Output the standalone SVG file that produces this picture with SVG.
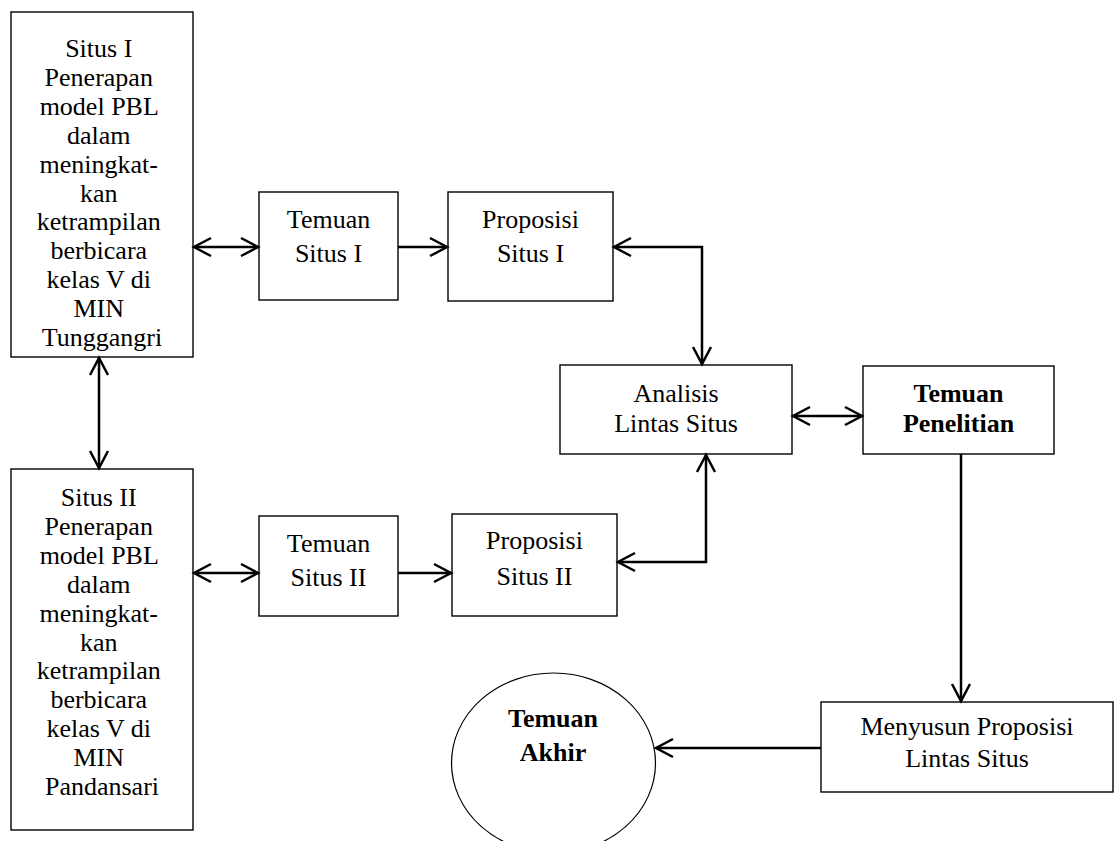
<svg xmlns="http://www.w3.org/2000/svg" width="1115" height="841" viewBox="0 0 1115 841">
<defs>
<style>
.box{fill:#fff;stroke:#000;stroke-width:1.4}
.t{font-family:"Liberation Serif","Times New Roman",serif;font-size:26px;fill:#000;text-anchor:middle}
.b{font-weight:bold}
.c{fill:none;stroke:#000;stroke-width:2.5}
</style>
<marker id="ah" viewBox="-20 -12 24 24" refX="0" refY="0" markerWidth="24" markerHeight="24" markerUnits="userSpaceOnUse" orient="auto-start-reverse">
<path d="M-17,-9 L0,0 L-17,9" fill="none" stroke="#000" stroke-width="2.5"/>
</marker>
</defs>
<rect width="1115" height="841" fill="#fff"/>
<g id="situs1">
<rect class="box" x="11" y="12" width="182" height="345"/>
<text class="t">
<tspan x="102" y="57">Situs I</tspan>
<tspan x="102" y="85.9">Penerapan</tspan>
<tspan x="102" y="114.8">model PBL</tspan>
<tspan x="102" y="143.7">dalam</tspan>
<tspan x="102" y="172.6">meningkat-</tspan>
<tspan x="102" y="201.5">kan</tspan>
<tspan x="102" y="230.4">ketrampilan</tspan>
<tspan x="102" y="259.3">berbicara</tspan>
<tspan x="102" y="288.2">kelas V di</tspan>
<tspan x="102" y="317.1">MIN</tspan>
<tspan x="102" y="346">Tunggangri</tspan>
</text>
</g>
<g id="situs2">
<rect class="box" x="11" y="469" width="182" height="361"/>
<text class="t">
<tspan x="102" y="506">Situs II</tspan>
<tspan x="102" y="534.9">Penerapan</tspan>
<tspan x="102" y="563.8">model PBL</tspan>
<tspan x="102" y="592.7">dalam</tspan>
<tspan x="102" y="621.6">meningkat-</tspan>
<tspan x="102" y="650.5">kan</tspan>
<tspan x="102" y="679.4">ketrampilan</tspan>
<tspan x="102" y="708.3">berbicara</tspan>
<tspan x="102" y="737.2">kelas V di</tspan>
<tspan x="102" y="766.1">MIN</tspan>
<tspan x="102" y="795">Pandansari</tspan>
</text>
</g>
<g id="temuan1">
<rect class="box" x="259" y="192" width="139" height="108"/>
<text class="t"><tspan x="328.5" y="228">Temuan</tspan><tspan x="328.5" y="262">Situs I</tspan></text>
</g>
<g id="proposisi1">
<rect class="box" x="448" y="192" width="165" height="109"/>
<text class="t"><tspan x="530.5" y="228">Proposisi</tspan><tspan x="530.5" y="262">Situs I</tspan></text>
</g>
<g id="temuan2">
<rect class="box" x="259" y="516" width="139" height="100"/>
<text class="t"><tspan x="328.5" y="552">Temuan</tspan><tspan x="328.5" y="586">Situs II</tspan></text>
</g>
<g id="proposisi2">
<rect class="box" x="452" y="514" width="165" height="102"/>
<text class="t"><tspan x="534.5" y="549">Proposisi</tspan><tspan x="534.5" y="585">Situs II</tspan></text>
</g>
<g id="analisis">
<rect class="box" x="560" y="365" width="232" height="89"/>
<text class="t"><tspan x="676" y="402">Analisis</tspan><tspan x="676" y="432">Lintas Situs</tspan></text>
</g>
<g id="penelitian">
<rect class="box" x="863" y="366" width="191" height="88"/>
<text class="t b"><tspan x="958.5" y="402">Temuan</tspan><tspan x="958.5" y="432">Penelitian</tspan></text>
</g>
<g id="menyusun">
<rect class="box" x="821" y="702" width="292" height="90"/>
<text class="t"><tspan x="967" y="735">Menyusun Proposisi</tspan><tspan x="967" y="767">Lintas Situs</tspan></text>
</g>
<g id="akhir">
<ellipse cx="553.5" cy="763" rx="102" ry="90" fill="#fff" stroke="#000" stroke-width="1.2"/>
<text class="t b"><tspan x="553" y="727">Temuan</tspan><tspan x="553" y="761">Akhir</tspan></text>
</g>
<g id="connectors">
<line class="c" x1="99" y1="358" x2="99" y2="468" marker-start="url(#ah)" marker-end="url(#ah)"/>
<line class="c" x1="194" y1="247" x2="258" y2="247" marker-start="url(#ah)" marker-end="url(#ah)"/>
<line class="c" x1="398" y1="247" x2="447" y2="247" marker-end="url(#ah)"/>
<line class="c" x1="194" y1="573" x2="258" y2="573" marker-start="url(#ah)" marker-end="url(#ah)"/>
<line class="c" x1="398" y1="573" x2="451" y2="573" marker-end="url(#ah)"/>
<path class="c" d="M614,247 H702 V364" marker-start="url(#ah)" marker-end="url(#ah)"/>
<path class="c" d="M618,562 H706 V455" marker-start="url(#ah)" marker-end="url(#ah)"/>
<line class="c" x1="793" y1="416" x2="862" y2="416" marker-start="url(#ah)" marker-end="url(#ah)"/>
<line class="c" x1="961" y1="454" x2="961" y2="701" marker-end="url(#ah)"/>
<line class="c" x1="821" y1="748" x2="656" y2="748" marker-end="url(#ah)"/>
</g>
</svg>
